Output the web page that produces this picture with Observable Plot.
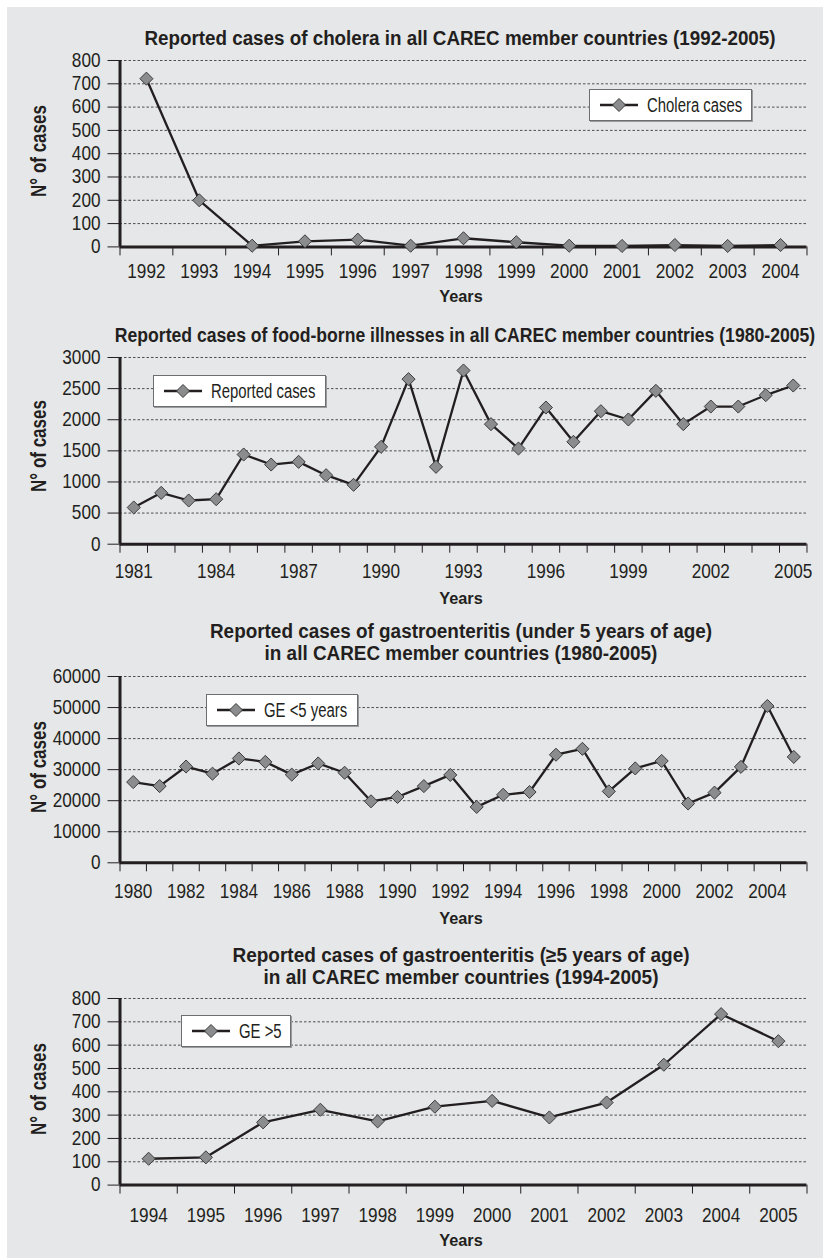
<!DOCTYPE html>
<html>
<head>
<meta charset="utf-8">
<script src="https://cdn.jsdelivr.net/npm/d3@7"></script>
<script src="https://cdn.jsdelivr.net/npm/@observablehq/plot@0.6"></script>
<style>
  html, body { margin: 0; padding: 0; background: #ffffff; }
  #page { position: relative; width: 823px; height: 1258px; overflow: hidden;
          font-family: "Liberation Sans", Arial, sans-serif; color: #231f20; }
  #bg { position: absolute; left: 7px; top: 7px; right: 0; bottom: 0; background: #e6e7e8; }
  .abs { position: absolute; white-space: nowrap; }
  .title { font-weight: bold; font-size: 20px; line-height: 22px; text-align: center; }
  .years { font-weight: bold; font-size: 17px; line-height: 20px; }
  .ylab { font-weight: bold; font-size: 17px; line-height: 20px; }
  .legend { position: absolute; background: #ffffff; border: 1px solid #6d6e71;
            box-shadow: 1px 1px 0 #9a9b9d; box-sizing: border-box; height: 32px; }
  .legend svg { position: absolute; left: 9px; top: 6px; }
  .legend .lt { position: absolute; left: 57px; top: 0; line-height: 30px; font-size: 20px;
                transform-origin: 0 50%; transform: scaleX(0.745); white-space: nowrap; }
  svg.chart { position: absolute; left: 0; }
</style>
</head>
<body>
<div id="page"><div id="bg"></div></div>
<script>
// ---------------- data ----------------
const choleraYears = [1992, 1993, 1994, 1995, 1996, 1997, 1998, 1999, 2000, 2001, 2002, 2003, 2004];
const choleraCases = [722, 200, 5, 24, 31, 5, 37, 20, 5, 4, 8, 4, 8];
const choleraYTicks = [0, 100, 200, 300, 400, 500, 600, 700, 800];
const choleraXLabels = [1992, 1993, 1994, 1995, 1996, 1997, 1998, 1999, 2000, 2001, 2002, 2003, 2004];

const foodYears = [1981, 1982, 1983, 1984, 1985, 1986, 1987, 1988, 1989, 1990, 1991, 1992, 1993,
                   1994, 1995, 1996, 1997, 1998, 1999, 2000, 2001, 2002, 2003, 2004, 2005];
const foodCases = [590, 825, 702, 723, 1441, 1280, 1323, 1109, 954, 1564, 2652, 1243, 2791,
                   1929, 1537, 2196, 1645, 2137, 2004, 2464, 1929, 2212, 2212, 2395, 2550];
const foodYTicks = [0, 500, 1000, 1500, 2000, 2500, 3000];
const foodXLabels = [1981, 1984, 1987, 1990, 1993, 1996, 1999, 2002, 2005];

const geUnder5Years = [1980, 1981, 1982, 1983, 1984, 1985, 1986, 1987, 1988, 1989, 1990, 1991, 1992,
                       1993, 1994, 1995, 1996, 1997, 1998, 1999, 2000, 2001, 2002, 2003, 2004, 2005];
const geUnder5Cases = [26000, 24700, 31000, 28700, 33600, 32500, 28400, 32000, 29000, 19800, 21200, 24700, 28300,
                       18000, 21900, 22800, 34800, 36700, 23000, 30400, 32800, 19100, 22600, 30900, 50500, 34100];
const geUnder5YTicks = [0, 10000, 20000, 30000, 40000, 50000, 60000];
const geUnder5XLabels = [1980, 1982, 1984, 1986, 1988, 1990, 1992, 1994, 1996, 1998, 2000, 2002, 2004];

const geOver5Years = [1994, 1995, 1996, 1997, 1998, 1999, 2000, 2001, 2002, 2003, 2004, 2005];
const geOver5Cases = [113, 119, 269, 323, 273, 336, 361, 290, 354, 516, 733, 617];
const geOver5YTicks = [0, 100, 200, 300, 400, 500, 600, 700, 800];
const geOver5XLabels = [1994, 1995, 1996, 1997, 1998, 1999, 2000, 2001, 2002, 2003, 2004, 2005];

const titles = [
  ["Reported cases of cholera in all CAREC member countries (1992-2005)"],
  ["Reported cases of food-borne illnesses in all CAREC member countries (1980-2005)"],
  ["Reported cases of gastroenteritis (under 5 years of age)", "in all CAREC member countries (1980-2005)"],
  ["Reported cases of gastroenteritis (\u22655 years of age)", "in all CAREC member countries (1994-2005)"]
];
const legendLabels = ["Cholera cases", "Reported cases", "GE <5 years", "GE >5"];
const xAxisLabel = "Years";
const yAxisLabels = ["N\u00b0 of cases", "N\u00b0 of cases", "N\u00b0 of cases", "N\u00b0 of cases"];

// ---------------- layout ----------------
const panels = [
  {years: choleraYears, values: choleraCases, yTicks: choleraYTicks, xLabels: choleraXLabels,
   yTop: 59.9, yZero: 246.3, labelPad: 17, titleBase: 45, titleScale: 0.94, titleCx: 460,
   yearsBase: 303.3, yLabelCy: 151, legend: {left: 589, top: 89, width: 163}},
  {years: foodYears, values: foodCases, yTicks: foodYTicks, xLabels: foodXLabels,
   yTop: 357.3, yZero: 544, labelPad: 19.3, titleBase: 341.7, titleScale: 0.88, titleCx: 464.5,
   yearsBase: 605, yLabelCy: 445.5, legend: {left: 153, top: 375, width: 173}},
  {years: geUnder5Years, values: geUnder5Cases, yTicks: geUnder5YTicks, xLabels: geUnder5XLabels,
   yTop: 676, yZero: 862.3, labelPad: 21, titleBase: 638.3, titleScale: 0.945, titleCx: 461,
   yearsBase: 925, yLabelCy: 767, legend: {left: 206, top: 694, width: 152}},
  {years: geOver5Years, values: geOver5Cases, yTicks: geOver5YTicks, xLabels: geOver5XLabels,
   yTop: 997.7, yZero: 1184.3, labelPad: 22.4, titleBase: 961.7, titleScale: 0.95, titleCx: 461,
   yearsBase: 1246.7, yLabelCy: 1089, legend: {left: 181, top: 1015, width: 110}}
];

const INK = "#231f20";
const DIAMOND_FILL = "#8b8c8e";
const DIAMOND_STROKE = "#3a3a3a";
const TICK_FONT = 20;
const TICK_SQUEEZE = 0.86;
const page = document.getElementById("page");

function baseOffset(F, L) { return (L - 1.117 * F) / 2 + 0.905 * F; }

function squeeze(el, s) {
  const x = parseFloat(el.getAttribute("x")) || 0;
  const t = el.getAttribute("transform") || "";
  el.setAttribute("transform", `${t} translate(${x},0) scale(${s},1) translate(${-x},0)`);
}

panels.forEach((p, k) => {
  const mTop = 20, mBottom = 48;
  const h = mTop + (p.yZero - p.yTop) + mBottom;
  const x0 = p.years[0] - 0.5;
  const x1 = p.years[p.years.length - 1] + 0.5;
  const edges = p.years.map(y => y - 0.5).concat([x1]);
  const yMax = p.yTicks[p.yTicks.length - 1];
  const data = p.years.map((year, i) => ({year, value: p.values[i]}));

  const chart = Plot.plot({
    width: 823, height: h,
    marginLeft: 119.5, marginRight: 16.5, marginTop: mTop, marginBottom: mBottom,
    style: {fontFamily: "'Liberation Sans', Arial, sans-serif", fontSize: TICK_FONT + "px",
            color: INK, background: "transparent", overflow: "visible"},
    x: {domain: [x0, x1], label: null},
    y: {domain: [0, yMax], label: null},
    marks: [
      Plot.ruleY(p.yTicks.slice(1), {stroke: "#4d4d4f", strokeWidth: 1, strokeDasharray: "2.5,2"}),
      Plot.axisY({ticks: p.yTicks, tickSize: 12, tickPadding: 7.5, tickFormat: d => String(d),
                  label: null, fontSize: TICK_FONT}),
      Plot.axisX({ticks: edges, tickSize: 9, tickFormat: () => "", label: null}),
      Plot.axisX({ticks: p.xLabels, tickSize: 0, tickPadding: p.labelPad, tickFormat: d => String(d),
                  label: null, fontSize: TICK_FONT}),
      Plot.ruleX([x0], {y1: 0, y2: yMax, stroke: INK, strokeWidth: 3}),
      Plot.ruleY([0], {stroke: INK, strokeWidth: 3}),
      Plot.line(data, {x: "year", y: "value", stroke: INK, strokeWidth: 2.3}),
      Plot.dot(data, {x: "year", y: "value", symbol: "diamond2", r: 5.9,
                      fill: DIAMOND_FILL, stroke: DIAMOND_STROKE, strokeWidth: 1})
    ]
  });
  chart.classList.add("chart");
  chart.style.top = (p.yTop - mTop) + "px";
  chart.querySelectorAll('g[aria-label="x-axis tick label"] text').forEach(el => squeeze(el, TICK_SQUEEZE));
  chart.querySelectorAll('g[aria-label="y-axis tick label"] text').forEach(el => squeeze(el, TICK_SQUEEZE));
  page.appendChild(chart);

  // title
  const t = document.createElement("div");
  t.className = "abs title";
  t.style.left = p.titleCx + "px";
  t.style.top = (p.titleBase - baseOffset(20, 22)) + "px";
  t.style.transform = `translateX(-50%) scaleX(${p.titleScale})`;
  t.innerHTML = titles[k].join("<br>");
  page.appendChild(t);

  // x axis label
  const yl = document.createElement("div");
  yl.className = "abs years";
  yl.style.left = "461px";
  yl.style.top = (p.yearsBase - baseOffset(17, 20)) + "px";
  yl.style.transform = "translateX(-50%) scaleX(0.96)";
  yl.textContent = xAxisLabel;
  page.appendChild(yl);

  // y axis label
  const ya = document.createElement("div");
  ya.className = "abs ylab";
  ya.style.left = "39px";
  ya.style.top = p.yLabelCy + "px";
  ya.style.transform = "translate(-50%,-50%) rotate(-90deg) scaleY(1.33)";
  ya.textContent = yAxisLabels[k];
  page.appendChild(ya);

  // legend
  const lg = document.createElement("div");
  lg.className = "legend";
  lg.style.left = p.legend.left + "px";
  lg.style.top = p.legend.top + "px";
  lg.style.width = p.legend.width + "px";
  lg.innerHTML = `<svg width="40" height="18" viewBox="0 0 40 18">
      <line x1="1" y1="9" x2="39" y2="9" stroke="${INK}" stroke-width="2.3"></line>
      <path d="M20,2.5L26.5,9L20,15.5L13.5,9Z" fill="${DIAMOND_FILL}" stroke="${DIAMOND_STROKE}" stroke-width="1"></path>
    </svg><span class="lt">${legendLabels[k].replace("<", "&lt;").replace(">", "&gt;")}</span>`;
  page.appendChild(lg);
});
</script>
</body>
</html>
